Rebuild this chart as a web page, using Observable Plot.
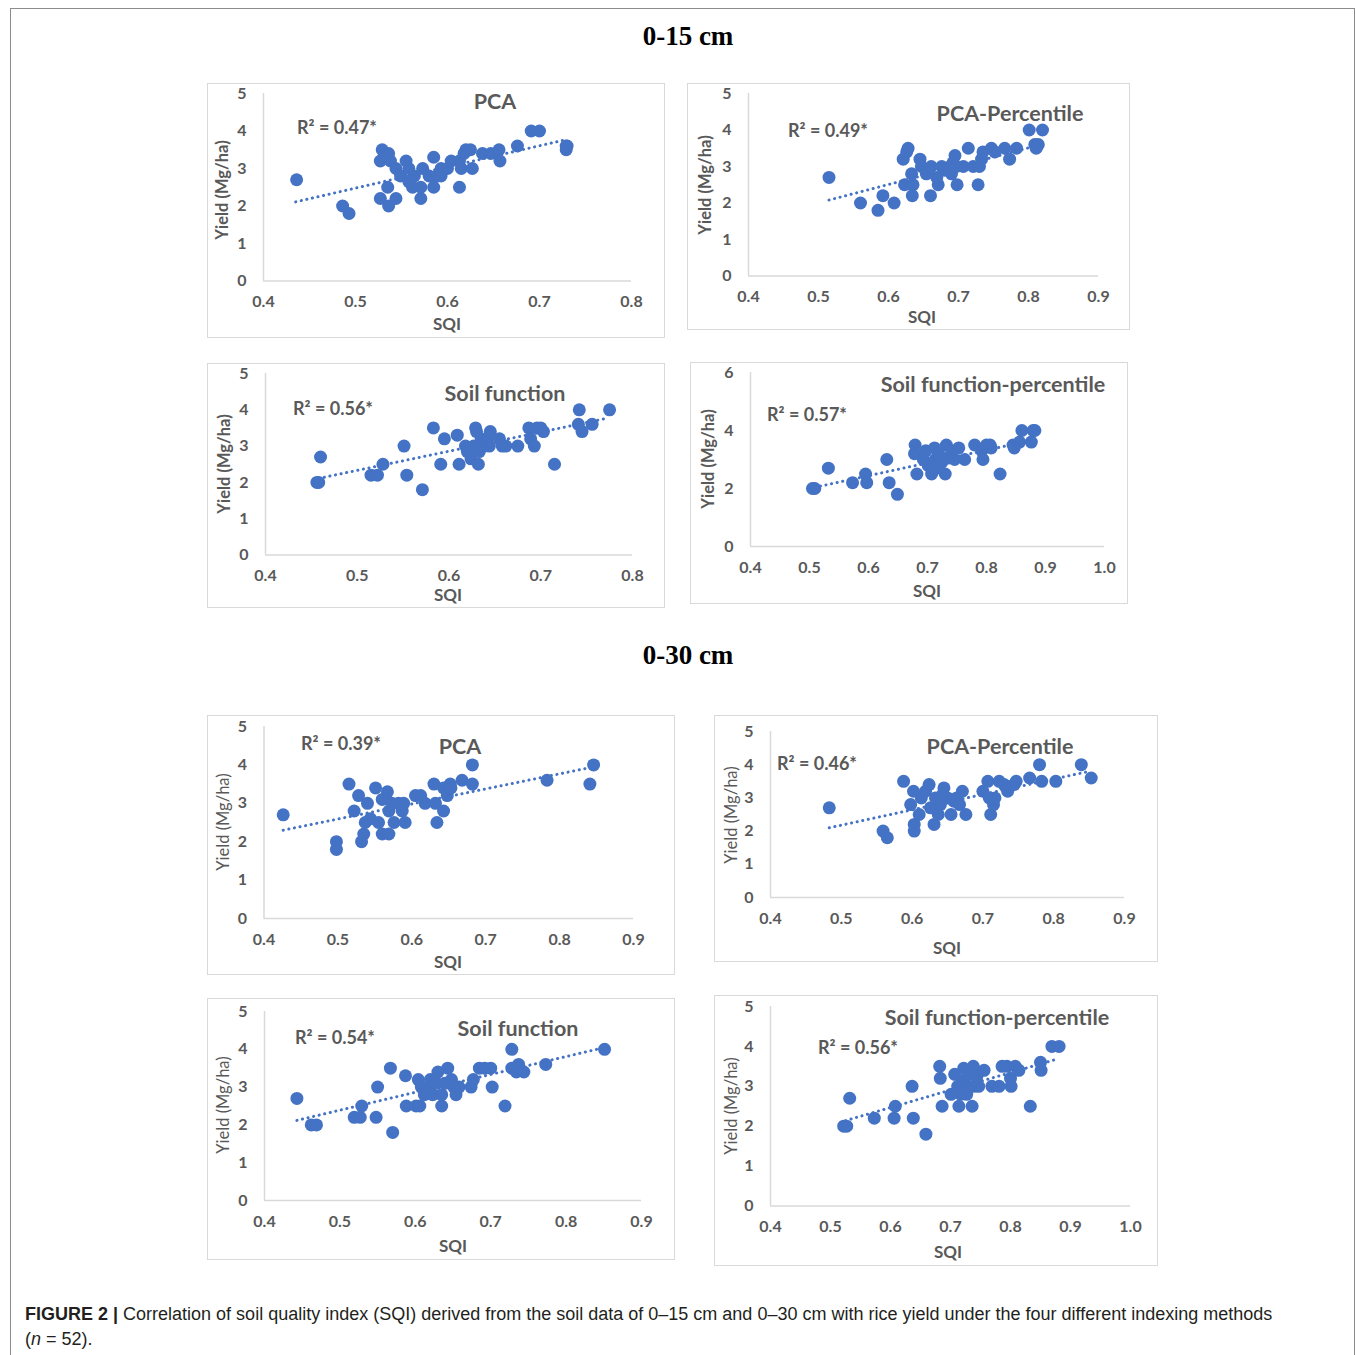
<!DOCTYPE html>
<html><head><meta charset="utf-8">
<script src="https://cdn.jsdelivr.net/npm/d3@7"></script>
<script src="https://cdn.jsdelivr.net/npm/@observablehq/plot@0.6"></script>
<style>
body{margin:0;background:#fff;width:1355px;height:1355px;position:relative;overflow:hidden;font-family:Lato,sans-serif}
.frame{position:absolute;left:10px;top:8px;width:1345px;height:1360px;border:1px solid #8c8c8c;box-sizing:border-box}
.sec{position:absolute;font-family:"Liberation Serif","Times New Roman",serif;font-weight:bold;font-size:27px;color:#000;transform:translate(-50%,-50%);white-space:nowrap}
.box{position:absolute;border:1.5px solid #d9d9d9;box-sizing:border-box}
.plotwrap{position:absolute}
.plotwrap svg{display:block}
.ttl{position:absolute;transform:translate(-50%,-50%);font-weight:bold;font-size:21.5px;color:#595959;white-space:nowrap}
.r2{position:absolute;transform:translate(0,-50%);font-weight:bold;font-size:18px;color:#595959;white-space:nowrap}
.xl{position:absolute;transform:translate(-50%,-50%);font-weight:bold;font-size:17px;color:#595959;white-space:nowrap}
.yl{position:absolute;transform:translate(-50%,-50%) rotate(-90deg);font-size:16.5px;color:#595959;white-space:nowrap}
.cap{position:absolute;left:25px;top:1302px;font-family:"Liberation Sans",Arial,sans-serif;font-size:18px;line-height:25px;color:#231f20;white-space:nowrap}
</style></head>
<body>
<div class="frame"></div>
<div class="sec" style="left:688px;top:36px">0-15 cm</div>
<div class="sec" style="left:688px;top:655px">0-30 cm</div>
<div id="charts"></div>
<div class="cap"><b>FIGURE 2 |</b> Correlation of soil quality index (SQI) derived from the soil data of 0–15 cm and 0–30 cm with rice yield under the four different indexing methods<br>(<i>n</i> = 52).</div>
<script>
// ---------- DATA ----------
const ticks04_08 = [0.4,0.5,0.6,0.7,0.8];
const ticks04_09 = [0.4,0.5,0.6,0.7,0.8,0.9];
const ticks04_10 = [0.4,0.5,0.6,0.7,0.8,0.9,1.0];
const yTicks5 = [0,1,2,3,4,5];
const yTicks6 = [0,2,4,6];

const titles = ["PCA","PCA-Percentile","Soil function","Soil function-percentile","PCA","PCA-Percentile","Soil function","Soil function-percentile"];
const r2Labels = ["R² = 0.47*","R² = 0.49*","R² = 0.56*","R² = 0.57*","R² = 0.39*","R² = 0.46*","R² = 0.54*","R² = 0.56*"];

// 0-15 cm PCA
const pca15_sqi = [0.436,0.486,0.493,0.529,0.527,0.536,0.538,0.535,0.527,0.536,0.544,0.544,0.549,0.555,0.558,0.558,0.562,0.564,0.571,0.571,0.573,0.580,0.585,0.585,0.589,0.593,0.593,0.600,0.604,0.613,0.613,0.615,0.618,0.620,0.625,0.627,0.638,0.647,0.656,0.657,0.676,0.691,0.700,0.729,0.730,0.729];
const pca15_yield = [2.7,2.0,1.8,3.5,3.2,3.4,3.2,2.5,2.2,2.0,2.2,3.0,2.8,3.2,3.0,2.65,2.5,2.8,2.5,2.2,3.0,2.8,3.3,2.5,2.8,3.0,2.8,3.0,3.2,3.2,2.5,3.0,3.4,3.5,3.5,3.0,3.4,3.4,3.5,3.2,3.6,4.0,4.0,3.5,3.6,3.6];
const pca15_trendSqi = [0.435,0.729], pca15_trendYield = [2.11,3.77];

// 0-15 cm PCA-Percentile
const pcap15_sqi = [0.515,0.560,0.585,0.592,0.608,0.621,0.628,0.626,0.623,0.635,0.634,0.633,0.645,0.647,0.654,0.660,0.661,0.671,0.669,0.676,0.680,0.688,0.690,0.692,0.695,0.697,0.698,0.707,0.714,0.721,0.728,0.730,0.733,0.735,0.747,0.752,0.766,0.773,0.783,0.801,0.809,0.814,0.811,0.820];
const pcap15_yield = [2.7,2.0,1.8,2.2,2.0,3.2,3.5,3.4,2.5,2.5,2.2,2.8,3.2,3.0,2.8,2.2,3.0,2.5,2.7,3.0,2.9,3.0,2.8,3.1,3.3,3.0,2.5,3.0,3.5,3.0,2.5,3.0,3.2,3.4,3.5,3.4,3.5,3.2,3.5,4.0,3.6,3.6,3.5,4.0];
const pcap15_trendSqi = [0.515,0.816], pcap15_trendYield = [2.08,3.59];

// 0-15 cm Soil function
const sf15_sqi = [0.460,0.456,0.458,0.515,0.522,0.528,0.551,0.554,0.571,0.583,0.591,0.595,0.609,0.611,0.618,0.620,0.624,0.627,0.629,0.630,0.632,0.633,0.635,0.638,0.642,0.645,0.644,0.655,0.658,0.662,0.675,0.687,0.689,0.693,0.696,0.700,0.703,0.715,0.742,0.741,0.745,0.756,0.775];
const sf15_yield = [2.7,2.0,2.0,2.2,2.2,2.5,3.0,2.2,1.8,3.5,2.5,3.2,3.3,2.5,3.0,2.85,2.65,3.0,3.5,3.4,2.5,2.85,3.2,3.0,3.2,3.4,3.0,3.2,3.0,3.0,3.0,3.5,3.2,3.0,3.5,3.5,3.4,2.5,4.0,3.6,3.4,3.6,4.0];
const sf15_trendSqi = [0.458,0.771], sf15_trendYield = [2.11,3.76];

// 0-15 cm Soil function-percentile
const sfp15_sqi = [0.509,0.505,0.532,0.573,0.595,0.597,0.631,0.635,0.649,0.679,0.678,0.682,0.693,0.697,0.701,0.707,0.712,0.713,0.715,0.719,0.724,0.730,0.732,0.735,0.741,0.746,0.753,0.763,0.780,0.792,0.794,0.800,0.806,0.808,0.823,0.845,0.847,0.856,0.860,0.876,0.879,0.882];
const sfp15_yield = [2.0,2.0,2.7,2.2,2.5,2.2,3.0,2.2,1.8,3.5,3.2,2.5,3.0,3.3,2.8,2.5,3.4,3.0,2.7,3.2,2.9,2.5,3.5,3.05,3.3,3.0,3.4,3.0,3.5,3.3,3.0,3.5,3.5,3.4,2.5,3.5,3.4,3.6,4.0,3.6,4.0,4.0];
const sfp15_trendSqi = [0.509,0.870], sfp15_trendYield = [2.04,3.63];

// 0-30 cm PCA
const pca30_sqi = [0.426,0.498,0.498,0.515,0.522,0.528,0.532,0.535,0.537,0.540,0.544,0.551,0.555,0.560,0.560,0.567,0.569,0.569,0.573,0.576,0.582,0.587,0.589,0.591,0.605,0.612,0.618,0.630,0.632,0.634,0.643,0.643,0.648,0.652,0.653,0.668,0.682,0.682,0.783,0.841,0.846];
const pca30_yield = [2.7,2.0,1.8,3.5,2.8,3.2,2.0,2.2,2.5,3.0,2.6,3.4,2.5,2.2,3.1,3.3,2.2,2.8,3.0,2.5,3.0,2.8,3.0,2.5,3.2,3.2,3.0,3.5,3.0,2.5,2.8,3.4,3.2,3.5,3.4,3.6,4.0,3.5,3.6,3.5,4.0];
const pca30_trendSqi = [0.426,0.844], pca30_trendYield = [2.30,3.94];

// 0-30 cm PCA-Percentile
const pcap30_sqi = [0.483,0.559,0.565,0.588,0.598,0.602,0.603,0.603,0.610,0.613,0.619,0.624,0.626,0.631,0.633,0.637,0.640,0.643,0.645,0.650,0.655,0.659,0.663,0.667,0.671,0.676,0.700,0.707,0.709,0.711,0.715,0.717,0.723,0.730,0.735,0.744,0.747,0.766,0.780,0.783,0.803,0.839,0.853];
const pcap30_yield = [2.7,2.0,1.8,3.5,2.8,3.2,2.2,2.0,2.5,3.0,3.2,3.4,2.7,2.2,3.0,2.5,2.8,3.1,3.3,3.0,2.5,2.9,3.0,2.8,3.2,2.5,3.2,3.5,3.0,2.5,2.8,3.0,3.5,3.4,3.2,3.4,3.5,3.6,4.0,3.5,3.5,4.0,3.6];
const pcap30_trendSqi = [0.483,0.846], pcap30_trendYield = [2.10,3.78];

// 0-30 cm Soil function
const sf30_sqi = [0.443,0.462,0.469,0.519,0.527,0.529,0.548,0.550,0.567,0.570,0.587,0.588,0.601,0.604,0.606,0.608,0.612,0.617,0.620,0.623,0.628,0.630,0.635,0.635,0.639,0.643,0.648,0.651,0.654,0.658,0.674,0.677,0.685,0.692,0.700,0.702,0.719,0.728,0.728,0.734,0.737,0.744,0.773,0.851];
const sf30_yield = [2.7,2.0,2.0,2.2,2.2,2.5,2.2,3.0,3.5,1.8,3.3,2.5,2.5,3.2,2.5,3.0,2.8,3.0,3.2,2.8,3.1,3.4,2.5,2.8,3.1,3.5,3.2,3.0,2.8,3.0,3.0,3.2,3.5,3.5,3.5,3.0,2.5,4.0,3.5,3.4,3.6,3.4,3.6,4.0];
const sf30_trendSqi = [0.443,0.847], sf30_trendYield = [2.12,4.03];

// 0-30 cm Soil function-percentile
const sfp30_sqi = [0.522,0.527,0.532,0.573,0.606,0.608,0.636,0.638,0.659,0.682,0.683,0.686,0.701,0.707,0.712,0.714,0.717,0.722,0.723,0.725,0.727,0.731,0.736,0.738,0.739,0.744,0.747,0.756,0.769,0.781,0.786,0.794,0.800,0.801,0.808,0.814,0.833,0.850,0.851,0.869,0.881];
const sfp30_yield = [2.0,2.0,2.7,2.2,2.2,2.5,3.0,2.2,1.8,3.5,3.2,2.5,2.8,3.3,3.0,2.5,2.8,3.45,3.15,2.95,2.8,3.3,2.5,3.5,3.0,3.25,3.0,3.4,3.0,3.0,3.5,3.5,3.2,3.0,3.5,3.4,2.5,3.6,3.4,4.0,4.0];
const sfp30_trendSqi = [0.525,0.875], sfp30_trendYield = [2.14,3.67];

// ---------- LAYOUT ----------
const panels = [
  {sqi:pca15_sqi, yld:pca15_yield, tx:pca15_trendSqi, ty:pca15_trendYield, xt:ticks04_08, yt:yTicks5,
   box:[207,83,665,338], fx:[263,631], fy:[280.5,93], title:[495,101], r2:[297,127], sqiL:[447,323], yL:[222,190], yBold:true},
  {sqi:pcap15_sqi, yld:pcap15_yield, tx:pcap15_trendSqi, ty:pcap15_trendYield, xt:ticks04_09, yt:yTicks5,
   box:[687,83,1130,330], fx:[748,1098], fy:[275.5,93], title:[1010,113], r2:[788,130], sqiL:[922,316], yL:[705,185], yBold:true},
  {sqi:sf15_sqi, yld:sf15_yield, tx:sf15_trendSqi, ty:sf15_trendYield, xt:ticks04_08, yt:yTicks5,
   box:[207,363,665,608], fx:[265,632], fy:[554.5,373], title:[505,393], r2:[293,408], sqiL:[448,594], yL:[224,464], yBold:true},
  {sqi:sfp15_sqi, yld:sfp15_yield, tx:sfp15_trendSqi, ty:sfp15_trendYield, xt:ticks04_10, yt:yTicks6,
   box:[690,362,1128,604], fx:[750,1104], fy:[546,372], title:[993,384], r2:[767,414], sqiL:[927,590], yL:[708,459], yBold:true},
  {sqi:pca30_sqi, yld:pca30_yield, tx:pca30_trendSqi, ty:pca30_trendYield, xt:ticks04_09, yt:yTicks5,
   box:[207,715,675,975], fx:[263.5,633], fy:[918,726], title:[460,746], r2:[301,743], sqiL:[448,961], yL:[223,822], yBold:false},
  {sqi:pcap30_sqi, yld:pcap30_yield, tx:pcap30_trendSqi, ty:pcap30_trendYield, xt:ticks04_09, yt:yTicks5,
   box:[714,715,1158,962], fx:[770,1124], fy:[897,731], title:[1000,746], r2:[777,763], sqiL:[947,947], yL:[731,815], yBold:false},
  {sqi:sf30_sqi, yld:sf30_yield, tx:sf30_trendSqi, ty:sf30_trendYield, xt:ticks04_09, yt:yTicks5,
   box:[207,998,675,1260], fx:[264,641], fy:[1200,1011], title:[518,1028], r2:[295,1037], sqiL:[453,1245], yL:[223,1105], yBold:false},
  {sqi:sfp30_sqi, yld:sfp30_yield, tx:sfp30_trendSqi, ty:sfp30_trendYield, xt:ticks04_10, yt:yTicks5,
   box:[714,995,1158,1266], fx:[770,1130], fy:[1205.5,1006], title:[997,1017], r2:[818,1047], sqiL:[948,1251], yL:[731,1106], yBold:false}
];

const BLUE = "#4472C4";
const root = document.getElementById("charts");
const fmt1 = d3.format(".1f");

panels.forEach((p, i) => {
  const [L,T,R,B] = p.box;
  const W = R - L, H = B - T;
  const box = document.createElement("div");
  box.className = "box";
  Object.assign(box.style, {left:L+"px", top:T+"px", width:W+"px", height:H+"px"});
  root.appendChild(box);

  const pts = p.sqi.map((x, k) => ({sqi:x, yield:p.yld[k]}));
  const trend = p.tx.map((x, k) => ({sqi:x, yield:p.ty[k]}));
  const xd = [p.xt[0], p.xt[p.xt.length-1]];
  const yd = [p.yt[0], p.yt[p.yt.length-1]];

  const chart = Plot.plot({
    width: W, height: H,
    marginLeft: p.fx[0] - L, marginRight: R - p.fx[1],
    marginTop: p.fy[1] - T, marginBottom: B - p.fy[0],
    style: {fontFamily: "Lato, sans-serif", fontSize: "16px", fontWeight: "bold", color: "#595959", background: "transparent", overflow: "visible"},
    x: {domain: xd, label: null},
    y: {domain: yd, label: null},
    marks: [
      Plot.ruleY([yd[0]], {stroke: "#d9d9d9", strokeWidth: 1.5}),
      Plot.ruleX([xd[0]], {stroke: "#d9d9d9", strokeWidth: 1.5}),
      Plot.axisX({ticks: p.xt, tickFormat: fmt1, tickSize: 0, tickPadding: 15, label: null}),
      Plot.axisY({ticks: p.yt, tickFormat: "d", tickSize: 0, tickPadding: 17, label: null}),
      Plot.dot(pts, {x: "sqi", y: "yield", r: 6.5, fill: BLUE, stroke: "none"}),
      Plot.line(trend, {x: "sqi", y: "yield", stroke: BLUE, strokeWidth: 3, strokeDasharray: "0.1,5.6", strokeLinecap: "round"})
    ]
  });
  const wrap = document.createElement("div");
  wrap.className = "plotwrap";
  Object.assign(wrap.style, {left:L+"px", top:T+"px", width:W+"px", height:H+"px"});
  wrap.appendChild(chart);
  root.appendChild(wrap);

  const add = (cls, txt, x, y, extra) => {
    const d = document.createElement("div");
    d.className = cls; d.textContent = txt;
    d.style.left = x + "px"; d.style.top = y + "px";
    if (extra) Object.assign(d.style, extra);
    root.appendChild(d);
  };
  add("ttl", titles[i], p.title[0], p.title[1]);
  add("r2", r2Labels[i], p.r2[0], p.r2[1]);
  add("xl", "SQI", p.sqiL[0], p.sqiL[1]);
  add("yl", "Yield (Mg/ha)", p.yL[0], p.yL[1], {fontWeight: p.yBold ? "bold" : "normal"});
});
</script>
</body></html>
